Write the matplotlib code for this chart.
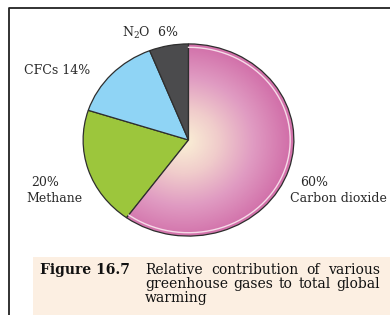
import numpy as np
import matplotlib
matplotlib.use("Agg")
import matplotlib.pyplot as plt
from matplotlib.colors import LinearSegmentedColormap
from matplotlib.patches import Rectangle

plt.rcParams['font.family'] = 'DejaVu Serif'
plt.rcParams['mathtext.fontset'] = 'dejavuserif'

# shares of greenhouse gases (clockwise from 12 o'clock)
gases = ["Carbon dioxide", "Methane", "CFCs", "N$_2$O"]
shares = [60, 20, 14, 6]
colors = ["#d57aae", "#9cc63c", "#8fd4f5", "#4b4b4d"]

caption_head = "Figure 16.7"
caption_lines = ["Relative contribution of various",
                 "greenhouse gases to total global",
                 "warming"]

W, H = 390, 315
fig = plt.figure(figsize=(W / 100, H / 100), dpi=100)
bg = fig.add_axes([0, 0, 1, 1])
bg.set_xlim(0, W)
bg.set_ylim(H, 0)
bg.axis("off")

# frame of the page
bg.plot([9, 9, W], [H, 8, 8], color="#222222", lw=1.3, solid_capstyle="projecting")
# caption band
bg.add_patch(Rectangle((33, 257), W - 33, H - 257, facecolor="#fcefe2", edgecolor="none"))

# pie
pax = fig.add_axes([81 / W, 1 - 238 / H, 215 / W, 196 / H])
wedges, _ = pax.pie(shares, colors=colors, startangle=90, counterclock=False,
                    wedgeprops=dict(edgecolor="#2e2e2e", linewidth=0.9))
pax.set_aspect("auto")
pax.set_xlim(-1.02, 1.02)
pax.set_ylim(-1.02, 1.02)
pax.axis("off")

# radial cream-to-pink shading on the CO2 slice
cmap = LinearSegmentedColormap.from_list("co2", ["#fbf1d6", "#f0cccb", "#e09bc2", "#d271aa"])
yy, xx = np.mgrid[-1:1:300j, -1:1:300j]
rr = np.hypot(xx + 0.05, yy + 0.02)
img = pax.imshow(rr, extent=[-1, 1, -1, 1], origin="lower", cmap=cmap,
                 vmin=0, vmax=1.0, zorder=wedges[0].get_zorder() + 0.1, aspect="auto")
img.set_clip_path(wedges[0])
wedges[0].set_zorder(wedges[0].get_zorder() + 0.2)
wedges[0].set_facecolor("none")
# light rim inside the pink slice
th = np.linspace(np.deg2rad(90), np.deg2rad(90 - 360 * 0.6), 200)
pax.plot(0.965 * np.cos(th), 0.965 * np.sin(th), color="#f6dbe8", lw=1.0, zorder=5)

fs = 9
tc = "#2a2a2a"
bg.text(150, 33, "N$_2$O  6%", ha="center", va="center", fontsize=fs, color=tc)
bg.text(24, 70, "CFCs 14%", ha="left", va="center", fontsize=fs, color=tc)
bg.text(45, 183, "20%", ha="center", va="center", fontsize=fs, color=tc)
bg.text(54, 198, "Methane", ha="center", va="center", fontsize=fs, color=tc)
bg.text(314, 183, "60%", ha="center", va="center", fontsize=fs, color=tc)
bg.text(290, 198, "Carbon dioxide", ha="left", va="center", fontsize=fs, color=tc)

# caption
cfs = 10
bg.text(40, 270, caption_head, ha="left", va="center", fontsize=cfs, fontweight="bold", color="#111111")

fig.canvas.draw()
renderer = fig.canvas.get_renderer()


def word_width(w):
    t = bg.text(0, 0, w, fontsize=cfs)
    bb = t.get_window_extent(renderer)
    t.remove()
    return bb.width * 100 / fig.dpi


x0, x1 = 145, 380
for i, line in enumerate(caption_lines):
    y = 270 + 14 * i
    words = line.split()
    if i == len(caption_lines) - 1:
        bg.text(x0, y, line, ha="left", va="center", fontsize=cfs, color="#111111")
        continue
    widths = [word_width(w) for w in words]
    gap = (x1 - x0 - sum(widths)) / (len(words) - 1)
    x = x0
    for w, wd in zip(words, widths):
        bg.text(x, y, w, ha="left", va="center", fontsize=cfs, color="#111111")
        x += wd + gap

fig.savefig("out.png", dpi=100)
